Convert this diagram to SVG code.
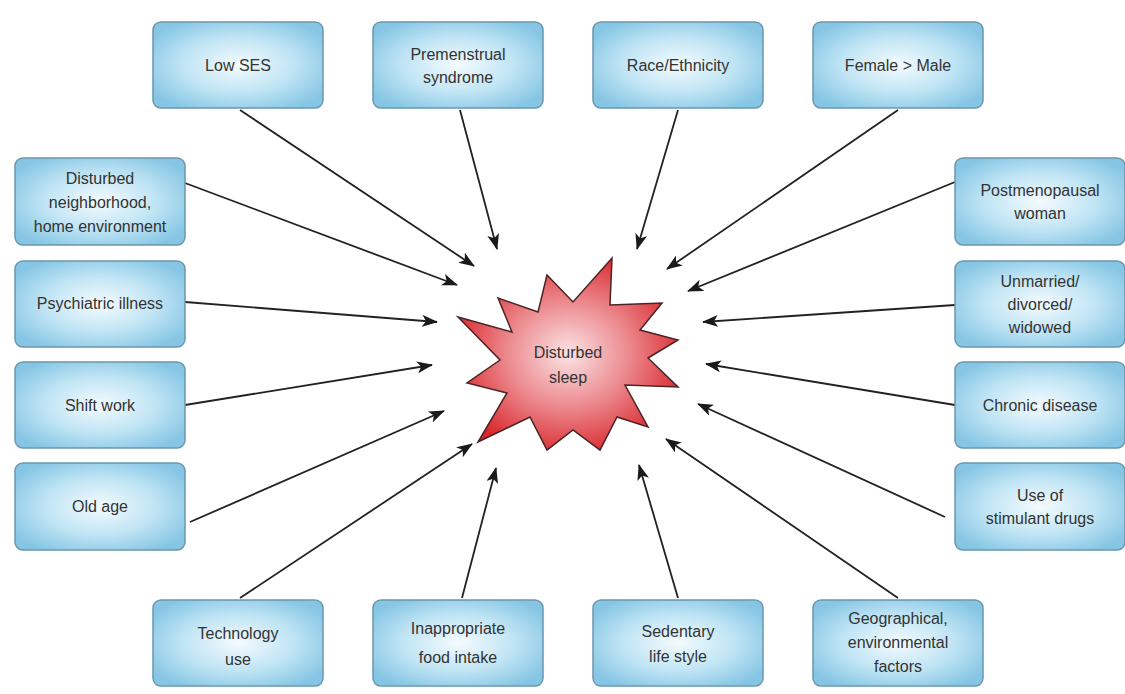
<svg xmlns="http://www.w3.org/2000/svg" width="1125" height="694" viewBox="0 0 1125 694">
<defs>
<radialGradient id="boxg" cx="50%" cy="50%" r="60%">
<stop offset="0" stop-color="#f4fbfe"/>
<stop offset="0.55" stop-color="#bfe4f4"/>
<stop offset="1" stop-color="#86c6e4"/>
</radialGradient>
<radialGradient id="starg" cx="50%" cy="50%" r="55%">
<stop offset="0" stop-color="#fbe4e6"/>
<stop offset="0.5" stop-color="#ec8a8e"/>
<stop offset="1" stop-color="#d8262c"/>
</radialGradient>
<marker id="ah" viewBox="0 0 16 12" refX="15" refY="6" markerWidth="16" markerHeight="12" markerUnits="userSpaceOnUse" orient="auto">
<path d="M0,0 L16,6 L0,12 L4,6 z" fill="#1a1a1a"/>
</marker>
<style>
.box{fill:url(#boxg);stroke:#6b97ad;stroke-width:1.5}
.t{font-family:"Liberation Sans",Arial,sans-serif;font-size:16px;fill:#333;text-anchor:middle}
.c line{stroke:#222;stroke-width:1.8;marker-end:url(#ah)}
</style>
</defs>
<rect width="1125" height="694" fill="#fff"/>
<g class="c" id="connectors">
<line x1="240" y1="110" x2="474" y2="266"/>
<line x1="460" y1="110" x2="497" y2="249"/>
<line x1="678" y1="110" x2="637" y2="249"/>
<line x1="898" y1="110" x2="667" y2="269"/>
<line x1="185" y1="183" x2="457" y2="285"/>
<line x1="185" y1="302" x2="437" y2="322"/>
<line x1="185" y1="405" x2="432" y2="365"/>
<line x1="190" y1="522" x2="444" y2="411"/>
<line x1="240" y1="598" x2="472" y2="444"/>
<line x1="462" y1="598" x2="496" y2="468"/>
<line x1="678" y1="598" x2="639" y2="465"/>
<line x1="898" y1="598" x2="666" y2="439"/>
<line x1="945" y1="517" x2="698" y2="404"/>
<line x1="955" y1="405" x2="706" y2="364"/>
<line x1="955" y1="305" x2="703" y2="322"/>
<line x1="955" y1="182" x2="688" y2="291"/>
</g>
<g id="star">
<polygon points="612,258 610,305 662,303 640,330 678,340 648,358 678,387 625,385 648,427 617,417 600,450 573,430 547,450 530,417 478,442 507,393 467,383 500,360 458,317 512,332 498,298 538,312 547,275 573,302" fill="url(#starg)" stroke="#4a2424" stroke-width="1.5" stroke-linejoin="miter"/>
<text class="t" x="568" y="358">Disturbed</text>
<text class="t" x="568" y="383">sleep</text>
</g>
<g id="n-lowses"><rect class="box" x="153" y="22" width="170" height="86" rx="8"/><text class="t" x="238" y="71">Low SES</text></g>
<g id="n-pms"><rect class="box" x="373" y="22" width="170" height="86" rx="8"/><text class="t" x="458" y="60">Premenstrual</text><text class="t" x="458" y="83">syndrome</text></g>
<g id="n-race"><rect class="box" x="593" y="22" width="170" height="86" rx="8"/><text class="t" x="678" y="71">Race/Ethnicity</text></g>
<g id="n-female"><rect class="box" x="813" y="22" width="170" height="86" rx="8"/><text class="t" x="898" y="71">Female &gt; Male</text></g>
<g id="n-neigh"><rect class="box" x="15" y="158" width="170" height="87" rx="8"/><text class="t" x="100" y="184">Disturbed</text><text class="t" x="100" y="208">neighborhood,</text><text class="t" x="100" y="232">home environment</text></g>
<g id="n-psych"><rect class="box" x="15" y="261" width="170" height="86" rx="8"/><text class="t" x="100" y="309">Psychiatric illness</text></g>
<g id="n-shift"><rect class="box" x="15" y="362" width="170" height="86" rx="8"/><text class="t" x="100" y="411">Shift work</text></g>
<g id="n-old"><rect class="box" x="15" y="463" width="170" height="87" rx="8"/><text class="t" x="100" y="512">Old age</text></g>
<g id="n-postmeno"><rect class="box" x="955" y="158" width="170" height="87" rx="8"/><text class="t" x="1040" y="196">Postmenopausal</text><text class="t" x="1040" y="219">woman</text></g>
<g id="n-unmarried"><rect class="box" x="955" y="261" width="170" height="86" rx="8"/><text class="t" x="1040" y="287">Unmarried/</text><text class="t" x="1040" y="310">divorced/</text><text class="t" x="1040" y="333">widowed</text></g>
<g id="n-chronic"><rect class="box" x="955" y="362" width="170" height="86" rx="8"/><text class="t" x="1040" y="411">Chronic disease</text></g>
<g id="n-stim"><rect class="box" x="955" y="463" width="170" height="87" rx="8"/><text class="t" x="1040" y="501">Use of</text><text class="t" x="1040" y="524">stimulant drugs</text></g>
<g id="n-tech"><rect class="box" x="153" y="600" width="170" height="86" rx="8"/><text class="t" x="238" y="639">Technology</text><text class="t" x="238" y="665">use</text></g>
<g id="n-food"><rect class="box" x="373" y="600" width="170" height="86" rx="8"/><text class="t" x="458" y="634">Inappropriate</text><text class="t" x="458" y="663">food intake</text></g>
<g id="n-sed"><rect class="box" x="593" y="600" width="170" height="86" rx="8"/><text class="t" x="678" y="637">Sedentary</text><text class="t" x="678" y="662">life style</text></g>
<g id="n-geo"><rect class="box" x="813" y="600" width="170" height="86" rx="8"/><text class="t" x="898" y="624">Geographical,</text><text class="t" x="898" y="648">environmental</text><text class="t" x="898" y="672">factors</text></g>
</svg>
